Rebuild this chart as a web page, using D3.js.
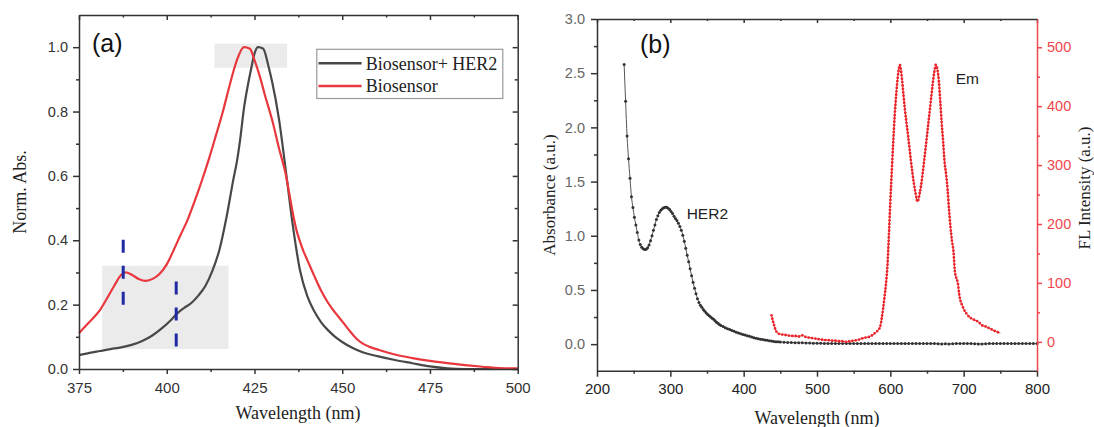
<!DOCTYPE html>
<html lang="en">

<head>
    <meta charset="UTF-8">
    <title>Absorbance and emission spectra</title>
    <script src="https://d3js.org/d3.v7.min.js"></script>
    <style>
        body { margin: 0; background: #fff; }
        .tick text { font-family: "Liberation Sans", Arial, sans-serif; }
        .serif { font-family: "Liberation Serif", "Times New Roman", serif; }
        .sans { font-family: "Liberation Sans", Arial, sans-serif; }
    </style>
</head>

<body>
    <svg id="chart" width="1094" height="427"></svg>

    <script>
        // ---- panel (a): normalised absorbance ----
        const her2Wl = [375, 378, 381, 384, 387, 390, 393, 396, 399, 401, 403, 405, 407, 409, 411, 413, 415, 417, 419, 420,
            421, 422, 423, 424, 425, 426, 427.5, 429, 430, 432, 434, 436, 438, 440, 442, 444, 446, 448, 450, 453,
            456, 460, 465, 470, 475, 480, 485, 490, 500];
        const her2Val = [0.043, 0.05, 0.056, 0.062, 0.067, 0.075, 0.087, 0.105, 0.13, 0.15, 0.173, 0.19, 0.205, 0.228, 0.258, 0.305, 0.37, 0.47, 0.59, 0.645,
            0.72, 0.81, 0.875, 0.93, 0.98, 1.0, 0.995, 0.94, 0.894, 0.775, 0.61, 0.44, 0.305, 0.228, 0.18, 0.145, 0.12, 0.1, 0.084, 0.065,
            0.051, 0.04, 0.028, 0.018, 0.008, 0.002, 0, 0, 0];
        const bioWl = [375, 377, 379, 381, 383, 385, 387, 388.3, 390, 392, 394, 396, 398, 400, 402, 404, 406, 408, 410, 412,
            414, 416, 418, 420, 422, 423.7, 425, 426.5, 428, 430, 432, 434, 435, 436, 437, 438, 439, 440, 442, 444,
            446, 448, 450, 452, 454, 456, 458, 460.5, 465, 470, 475, 480, 485, 490, 495, 500];
        const bioVal = [0.111, 0.135, 0.158, 0.184, 0.22, 0.258, 0.292, 0.3, 0.293, 0.28, 0.274, 0.28, 0.296, 0.325, 0.37, 0.418, 0.465, 0.523, 0.585, 0.652,
            0.725, 0.8, 0.885, 0.96, 1.0, 0.995, 0.96, 0.91, 0.85, 0.775, 0.685, 0.6, 0.54, 0.48, 0.43, 0.395, 0.365, 0.34, 0.29, 0.243,
            0.205, 0.175, 0.148, 0.12, 0.095, 0.078, 0.068, 0.059, 0.045, 0.034, 0.025, 0.018, 0.012, 0.007, 0.003, 0.002];
        const legendNames = ["Biosensor+ HER2", "Biosensor"];

        // shaded regions and blue guide marks (data units)
        const boxX0 = [413.6, 381.6], boxX1 = [434.3, 417.6];
        const boxY0 = [0.936, 0.062], boxY1 = [1.011, 0.321];
        const guideX = [387.6, 402.7], guideTop = [0.402, 0.272], guideBottom = [0.199, 0.064];

        const xTicksA = [375, 400, 425, 450, 475, 500];
        const xMinorA = [387.5, 412.5, 437.5, 462.5, 487.5];
        const yTicksA = [0, 0.2, 0.4, 0.6, 0.8, 1.0];
        const yMinorA = [0.1, 0.3, 0.5, 0.7, 0.9];

        // ---- panel (b): HER2 absorbance + emission ----
        const absWl = [237, 239, 241, 243, 245, 247, 249, 251, 253, 255, 257, 259, 261, 263, 265, 267, 269, 271, 273, 275,
            277, 279, 281, 283, 285, 287, 289, 291, 293, 295, 297, 299, 301, 303, 305, 307, 309, 311, 313, 315,
            317, 319, 321, 323, 325, 327, 329, 331, 333, 335, 337, 339, 341, 343, 345, 347, 349, 351, 353, 355,
            357, 359, 361, 363, 365, 367, 369, 372, 375, 378, 381, 384, 387, 390, 393, 396, 399, 402, 405, 408,
            411, 414, 417, 420, 423, 426, 429, 432, 435, 438, 441, 444, 447, 450, 455, 460, 465, 470, 475, 480,
            485, 490, 495, 500, 505, 510, 515, 520, 525, 530, 535, 540, 545, 550, 555, 560, 565, 570, 575, 580,
            585, 590, 595, 600, 605, 610, 615, 620, 625, 630, 635, 640, 645, 650, 655, 660, 665, 670, 675, 680,
            685, 690, 695, 700, 705, 710, 715, 720, 725, 730, 735, 740, 745, 750, 755, 760, 765, 770, 775, 780,
            785, 790, 795, 800];
        const absVal = [2.58, 2.24, 1.92, 1.71, 1.53, 1.36, 1.26, 1.17, 1.1, 1.03, 0.96, 0.92, 0.895, 0.88, 0.874, 0.876, 0.89, 0.915, 0.955, 1.0,
            1.05, 1.1, 1.15, 1.185, 1.215, 1.235, 1.25, 1.258, 1.263, 1.262, 1.255, 1.242, 1.225, 1.205, 1.18, 1.16, 1.14, 1.115, 1.085, 1.05,
            1.005, 0.95, 0.885, 0.82, 0.76, 0.695, 0.63, 0.57, 0.515, 0.465, 0.42, 0.385, 0.36, 0.34, 0.32, 0.303, 0.288, 0.274, 0.262, 0.25,
            0.24, 0.23, 0.215, 0.203, 0.192, 0.181, 0.172, 0.162, 0.152, 0.143, 0.134, 0.126, 0.118, 0.11, 0.103, 0.097, 0.09, 0.084, 0.078, 0.072,
            0.066, 0.06, 0.055, 0.05, 0.046, 0.042, 0.038, 0.035, 0.031, 0.028, 0.025, 0.023, 0.021, 0.02, 0.018, 0.016, 0.015, 0.014, 0.013, 0.012,
            0.011, 0.01, 0.009, 0.008, 0.008, 0.007, 0.007, 0.007, 0.006, 0.006, 0.006, 0.006, 0.006, 0.005, 0.005, 0.005, 0.005, 0.005, 0.005, 0.005,
            0.005, 0.005, 0.005, 0.005, 0.005, 0.005, 0.005, 0.005, 0.005, 0.005, 0.005, 0.005, 0.005, 0.005, 0.005, 0.005, 0.004, 0.001, 0.003, 0.001,
            0.004, 0.005, 0.005, 0.005, 0.005, 0.005, 0.004, 0.002, 0.002, 0.003, 0.005, 0.005, 0.005, 0.005, 0.005, 0.005, 0.005, 0.005, 0.005, 0.005,
            0.005, 0.005, 0.005, 0.005];
        const emWl = [438, 440, 443, 446, 450, 455, 460, 465, 470, 475, 480, 485, 490, 495, 500, 505, 510, 515, 520, 525,
            530, 535, 540, 545, 550, 555, 560, 565, 570, 575, 578, 580, 582, 584, 586, 588, 590, 592, 594, 596,
            598, 600, 602, 604, 606, 608, 610, 612, 613, 614, 616, 618, 620, 622, 624, 626, 628, 630, 632, 634,
            636, 637, 638, 640, 642, 644, 646, 648, 650, 652, 654, 656, 658, 660, 662, 664, 666, 668, 670, 672,
            674, 676, 678, 680, 682, 684, 686, 688, 690, 692, 694, 696, 698, 700, 705, 710, 715, 720, 725, 730,
            735, 740, 745, 750];
        const emVal = [45, 35, 22, 15, 13, 12, 11, 10, 10, 9, 11, 8, 7, 6, 5, 4, 3, 3, 2, 2,
            1, 1, 0, 1, 2, 3, 5, 7, 8, 11, 14, 16, 18, 21, 25, 38, 55, 75, 98, 128,
            180, 238, 290, 340, 385, 420, 448, 466, 470, 465, 445, 418, 393, 372, 352, 330, 308, 288, 270, 255,
            242, 238, 240, 252, 266, 285, 306, 328, 350, 373, 395, 418, 440, 458, 470, 463, 445, 410, 372, 340,
            305, 285, 260, 225, 195, 172, 155, 120, 108, 100, 80, 68, 62, 56, 46, 40, 37, 34, 28, 26,
            23, 20, 17, 15];

        const xTicksB = [200, 300, 400, 500, 600, 700, 800];
        const xMinorB = [250, 350, 450, 550, 650, 750];
        const yTicksB = [0, 0.5, 1.0, 1.5, 2.0, 2.5, 3.0];
        const yMinorB = [0.25, 0.75, 1.25, 1.75, 2.25, 2.75];
        const yTicksFL = [0, 100, 200, 300, 400, 500];
        const yMinorFL = [50, 150, 250, 350, 450];

        const svg = d3.select("#chart");
        svg.append("rect").attr("width", 1094).attr("height", 427).attr("fill", "#fff");

        function styleAxis(g, color, width) {
            g.selectAll("path").attr("stroke", color).attr("stroke-width", width);
            g.selectAll("line").attr("stroke", color).attr("stroke-width", width);
            return g;
        }

        function addAxis(gen, tx, ty, color, width) {
            const g = svg.append("g").attr("transform", `translate(${tx},${ty})`).call(gen);
            return styleAxis(g, color, width);
        }

        // ================= panel (a) =================
        const xa = d3.scaleLinear([375, 500], [79, 517.7]);
        const ya = d3.scaleLinear([0, 1.1], [369, 15]);

        // shaded boxes
        svg.append("g").selectAll("rect")
            .data(boxX0)
            .enter().append("rect")
            .attr("x", (d, i) => xa(boxX0[i]))
            .attr("y", (d, i) => ya(boxY1[i]))
            .attr("width", (d, i) => xa(boxX1[i]) - xa(boxX0[i]))
            .attr("height", (d, i) => ya(boxY0[i]) - ya(boxY1[i]))
            .attr("fill", "#ebebeb");

        const lineA = d3.line().x(d => xa(d[0])).y(d => ya(d[1])).curve(d3.curveMonotoneX);

        svg.append("path")
            .attr("d", lineA(d3.zip(her2Wl, her2Val)))
            .attr("fill", "none").attr("stroke", "#484848").attr("stroke-width", 2.2);
        svg.append("path")
            .attr("d", lineA(d3.zip(bioWl, bioVal)))
            .attr("fill", "none").attr("stroke", "#e8373d").attr("stroke-width", 2.2);

        // blue guide marks
        svg.append("g").selectAll("line")
            .data(guideX)
            .enter().append("line")
            .attr("x1", d => xa(d)).attr("x2", d => xa(d))
            .attr("y1", (d, i) => ya(guideTop[i]))
            .attr("y2", (d, i) => ya(guideBottom[i]))
            .attr("stroke", "#1f2aa3").attr("stroke-width", 3)
            .attr("stroke-dasharray", "13,13");

        // axes (frame)
        const gxa = addAxis(d3.axisBottom(xa).tickValues(xTicksA).tickSize(5).tickSizeOuter(0).tickPadding(8).tickFormat(d3.format("d")), 0, 369, "#333", 1.5);
        gxa.selectAll("text").attr("font-size", 15).attr("fill", "#333");
        addAxis(d3.axisBottom(xa).tickValues(xMinorA).tickSize(3).tickFormat(""), 0, 369, "#333", 1.5).select(".domain").remove();
        addAxis(d3.axisBottom(xa).tickValues(xTicksA).tickSize(5).tickSizeOuter(0).tickFormat(""), 0, 15, "#333", 1.5);
        addAxis(d3.axisBottom(xa).tickValues(xMinorA).tickSize(2.5).tickFormat(""), 0, 15, "#333", 1.5).select(".domain").remove();

        const gya = addAxis(d3.axisLeft(ya).tickValues(yTicksA).tickSize(6).tickSizeOuter(0).tickPadding(5).tickFormat(d3.format(".1f")), 79, 0, "#333", 1.5);
        gya.selectAll("text").attr("font-size", 14.5).attr("fill", "#333");
        addAxis(d3.axisLeft(ya).tickValues(yMinorA).tickSize(3).tickFormat(""), 79, 0, "#333", 1.5).select(".domain").remove();
        addAxis(d3.axisLeft(ya).tickValues(yTicksA).tickSize(5).tickSizeOuter(0).tickFormat(""), 517.7, 0, "#333", 1.5);
        addAxis(d3.axisLeft(ya).tickValues(yMinorA).tickSize(3).tickFormat(""), 517.7, 0, "#333", 1.5).select(".domain").remove();

        // titles
        svg.append("text").attr("class", "serif")
            .attr("x", 298).attr("y", 419).attr("text-anchor", "middle")
            .attr("font-size", 18).attr("fill", "#222").text("Wavelength (nm)");
        svg.append("text").attr("class", "serif")
            .attr("transform", "translate(20,192) rotate(-90)")
            .attr("dy", "0.35em").attr("text-anchor", "middle")
            .attr("font-size", 18).attr("fill", "#222").text("Norm. Abs.");
        svg.append("text").attr("class", "sans")
            .attr("x", 92).attr("y", 52)
            .attr("font-size", 25).attr("fill", "#111").text("(a)");

        // legend
        const legend = svg.append("g");
        legend.append("rect")
            .attr("x", 316.8).attr("y", 49.3).attr("width", 186).attr("height", 49.2)
            .attr("fill", "#fff").attr("stroke", "#9a9a9a").attr("stroke-width", 1.2);
        const legendColors = ["#484848", "#e8373d"];
        legendNames.forEach((name, i) => {
            const ly = 63.3 + i * 22.7;
            legend.append("line")
                .attr("x1", 318.5).attr("x2", 361.6).attr("y1", ly).attr("y2", ly)
                .attr("stroke", legendColors[i]).attr("stroke-width", 2.6);
            legend.append("text").attr("class", "serif")
                .attr("x", 365.7).attr("y", ly + 6.3)
                .attr("font-size", 18).attr("fill", "#222").text(name);
        });

        // ================= panel (b) =================
        const xb = d3.scaleLinear([200, 800], [597, 1037]);
        const yb = d3.scaleLinear([-0.245, 3.0], [370.7, 19]);
        const yr = d3.scaleLinear([-49, 548], [370.7, 19]);

        const lineAbs = d3.line().x(d => xb(d[0])).y(d => yb(d[1])).curve(d3.curveMonotoneX);
        const lineEm = d3.line().x(d => xb(d[0])).y(d => yr(d[1])).curve(d3.curveMonotoneX);

        const absData = d3.zip(absWl, absVal);
        svg.append("path")
            .attr("d", lineAbs(absData))
            .attr("fill", "none").attr("stroke", "#555").attr("stroke-width", 1);
        svg.append("g").selectAll("circle")
            .data(absData)
            .enter().append("circle")
            .attr("cx", d => xb(d[0])).attr("cy", d => yb(d[1]))
            .attr("r", 1.5).attr("fill", "#333");

        const emData = d3.zip(emWl, emVal);
        svg.append("path")
            .attr("d", lineEm(emData))
            .attr("fill", "none").attr("stroke", "#ee3a3f").attr("stroke-width", 1);
        // dense point markers along the emission trace
        svg.append("path")
            .attr("d", lineEm(emData))
            .attr("fill", "none").attr("stroke", "#e8262c").attr("stroke-width", 2.8)
            .attr("stroke-linecap", "round").attr("stroke-dasharray", "0,3.4");

        // axes
        const gxb = addAxis(d3.axisBottom(xb).tickValues(xTicksB).tickSize(6).tickSizeOuter(0).tickPadding(7).tickFormat(d3.format("d")), 0, 370.7, "#333", 1.5);
        gxb.selectAll("text").attr("font-size", 15).attr("fill", "#222");
        addAxis(d3.axisBottom(xb).tickValues(xMinorB).tickSize(3).tickFormat(""), 0, 370.7, "#333", 1.5).select(".domain").remove();
        addAxis(d3.axisBottom(xb).tickValues(xTicksB).tickSize(4).tickSizeOuter(0).tickFormat(""), 0, 19, "#333", 1.5);
        addAxis(d3.axisBottom(xb).tickValues(xMinorB).tickSize(2).tickFormat(""), 0, 19, "#333", 1.5).select(".domain").remove();

        const gyb = addAxis(d3.axisLeft(yb).tickValues(yTicksB).tickSize(6).tickSizeOuter(0).tickPadding(6).tickFormat(d3.format(".1f")), 597, 0, "#333", 1.5);
        gyb.selectAll("text").attr("font-size", 14.5).attr("fill", "#666");
        addAxis(d3.axisLeft(yb).tickValues(yMinorB).tickSize(3).tickFormat(""), 597, 0, "#333", 1.5).select(".domain").remove();

        const gyr = addAxis(d3.axisRight(yr).tickValues(yTicksFL).tickSize(5).tickSizeOuter(0).tickPadding(5).tickFormat(d3.format("d")), 1037, 0, "#f0474c", 1.5);
        gyr.selectAll("text").attr("font-size", 14.5).attr("fill", "#f0474c");
        addAxis(d3.axisRight(yr).tickValues(yMinorFL).tickSize(3).tickFormat(""), 1037, 0, "#f0474c", 1.5).select(".domain").remove();

        svg.append("text").attr("class", "serif")
            .attr("x", 817).attr("y", 424).attr("text-anchor", "middle")
            .attr("font-size", 18).attr("fill", "#222").text("Wavelength (nm)");
        svg.append("text").attr("class", "serif")
            .attr("transform", "translate(549,195) rotate(-90)")
            .attr("dy", "0.35em").attr("text-anchor", "middle")
            .attr("font-size", 17).attr("fill", "#222").text("Absorbance (a.u.)");
        svg.append("text").attr("class", "serif")
            .attr("transform", "translate(1084,188) rotate(-90)")
            .attr("dy", "0.35em").attr("text-anchor", "middle")
            .attr("font-size", 17).attr("fill", "#222").text("FL Intensity (a.u.)");
        svg.append("text").attr("class", "sans")
            .attr("x", 640).attr("y", 53)
            .attr("font-size", 25).attr("fill", "#111").text("(b)");
        svg.append("text").attr("class", "sans")
            .attr("x", xb(322.3)).attr("y", yb(1.151))
            .attr("font-size", 15.5).attr("fill", "#222").text("HER2");
        svg.append("text").attr("class", "sans")
            .attr("x", xb(689.2)).attr("y", yr(437.6))
            .attr("font-size", 15.5).attr("fill", "#222").text("Em");
    </script>
</body>

</html>
